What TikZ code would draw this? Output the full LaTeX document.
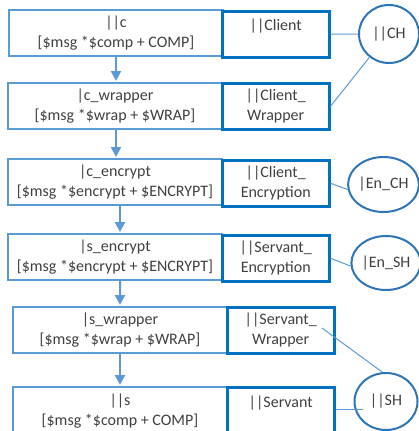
\documentclass[tikz,border=0pt]{standalone}
\usepackage{fontspec}
\setmainfont{Carlito}
\usetikzlibrary{arrows.meta,shapes.geometric}
\definecolor{lb}{HTML}{5B9BD5}
\definecolor{db}{HTML}{0070C0}
\definecolor{cb}{HTML}{2E75B6}
\definecolor{tx}{HTML}{404040}
\tikzset{
  lbox/.style={draw=lb, line width=2bp, minimum width=214bp, minimum height=46bp, anchor=north west, align=center, text=tx, inner sep=0pt},
  rbox/.style={draw=db, line width=2.5bp, minimum width=107bp, minimum height=46bp, anchor=north west, align=center, text=tx, inner sep=0pt},
  ell/.style={ellipse, draw=cb, line width=2bp, inner sep=0pt, text=tx, minimum width=62bp, minimum height=56bp},
  conn/.style={draw=lb, line width=1bp},
  arr/.style={draw=lb, line width=2bp, -{Triangle[width=10bp,length=10bp]}, shorten >=1bp}
}
\begin{document}
\begin{tikzpicture}[x=1bp,y=-1bp, font=\fontsize{16bp}{20bp}\selectfont]
\useasboundingbox (0,0) rectangle (419,431);
\clip (0,0) rectangle (419,431);
% left boxes
\node[lbox] (l1) at (8,9) {||c\\{[}\$msg *\$comp + COMP{]}};
\node[lbox] (l2) at (7,82) {|c\_wrapper\\{[}\$msg *\$wrap + \$WRAP{]}};
\node[lbox] (l3) at (7,158) {|c\_encrypt\\{[}\$msg *\$encrypt + \$ENCRYPT{]}};
\node[lbox] (l4) at (7,233) {|s\_encrypt\\{[}\$msg *\$encrypt + \$ENCRYPT{]}};
\node[lbox] (l5) at (12,306) {|s\_wrapper\\{[}\$msg *\$wrap + \$WRAP{]}};
\node[lbox, minimum height=48bp] (l6) at (12,386) {||s\\{[}\$msg *\$comp + COMP{]}};
% right boxes
\node[rbox] (r1) at (221,10) {||Client\\\mbox{}};
\node[rbox] (r2) at (221,82) {||Client\_\\Wrapper};
\node[rbox] (r3) at (221,159) {||Client\_\\Encryption};
\node[rbox] (r4) at (221,234) {||Servant\_\\Encryption};
\node[rbox] (r5) at (226,306) {||Servant\_\\Wrapper};
\node[rbox, minimum height=48bp] (r6) at (226,386) {||Servant\\\mbox{}};
% ellipses
\node[ell, minimum width=60bp, minimum height=58bp] (ch) at (389,34) {||CH};
\node[ell, minimum width=61bp, minimum height=55bp] (ench) at (383.5,184.5) {|En\_CH};
\node[ell, minimum width=62bp, minimum height=54bp] (ensh) at (386,263) {|En\_SH};
\node[ell, minimum width=63bp, minimum height=57bp] (sh) at (386,401.5) {||SH};
% arrows
\draw[arr] (l1.south) -- (l1.south |- l2.north);
\draw[arr] ([xshift=1bp]l2.south) -- ([xshift=1bp]l2.south |- l3.north);
\draw[arr] ([xshift=5bp]l3.south) -- ([xshift=5bp]l3.south |- l4.north);
\draw[arr] ([xshift=5bp]l4.south) -- (l5.north);
\draw[arr] (l5.south) -- (l6.north);
% connectors
\draw[conn] (r1.east) -- (ch.west);
\draw[conn] (r2.east) -- (ch.230);
\draw[conn] (r3.east) -- (ench.188);
\draw[conn] (r4.east) -- (ensh.185);
\coordinate (sw) at (322,328);
\draw[conn] (sw) -- (sh.97);
\coordinate (shin) at (363,409);
\draw[conn] (r6.east |- shin) -- (shin);
\end{tikzpicture}
\end{document}
